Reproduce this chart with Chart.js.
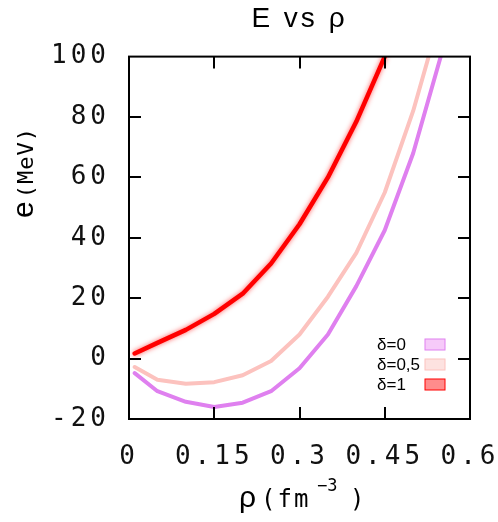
<!DOCTYPE html>
<html>
<head>
<meta charset="utf-8">
<script src="https://cdn.jsdelivr.net/npm/chart.js@4.4.1/dist/chart.umd.min.js"></script>
<style>
  html, body { margin: 0; padding: 0; background: #fff; }
  canvas { display: block; }
</style>
</head>
<body>
<canvas id="eosChart" width="498" height="522"></canvas>
<script>
// density (fm^-3) and energy per nucleon (MeV)
const rho = [0.01, 0.05, 0.1, 0.15, 0.2, 0.25, 0.3, 0.35, 0.4, 0.45, 0.5, 0.55];
const eDelta0 = [-4.8, -10.8, -14.3, -16, -14.6, -10.8, -3.2, 8, 24, 42.5, 68, 101];
const eDelta05 = [-2.8, -7, -8.3, -7.8, -5.5, -0.8, 8, 20.5, 35, 55, 82, 115];
const eDelta1 = [1.7, 5.2, 9.5, 14.8, 21.5, 31.5, 44.5, 60, 78.5, 100, null, null];
const seriesLabels = ['δ=0', 'δ=0,5', 'δ=1'];
const xTicks = [0, 0.15, 0.3, 0.45, 0.6];
const yTicks = [-20, 0, 20, 40, 60, 80, 100];

const lineColors = ['#df80ef', '#fcc2be', '#ff0000'];
const boxFills = ['#f6caf9', '#fde2e0', '#ff8c8c'];

const MONO = "'DejaVu Sans Mono', monospace";
const SANS = "'Liberation Sans', Arial, sans-serif";

function points(values) {
    return rho.map((r, i) => ({ x: r, y: values[i] }));
}

// gnuplot-like frame: box, inward ticks, axis titles, legend
const framePlugin = {
    id: 'frame',
    beforeDraw(chart) {
        chart.ctx.letterSpacing = '3px'; // title
    },
    beforeDatasetDraw(chart, args) {
        if (args.index === 2) {
            const ctx = chart.ctx;
            ctx.save();
            ctx.shadowColor = 'rgba(255, 40, 40, 0.75)';
            ctx.shadowBlur = 5;
        }
    },
    afterDatasetDraw(chart, args) {
        if (args.index === 2) {
            chart.ctx.restore();
        }
    },
    afterDatasetsDraw(chart) {
        chart.ctx.letterSpacing = '4px'; // tick labels drawn next (z = 1)
    },
    afterDraw(chart) {
        const ctx = chart.ctx;
        const area = chart.chartArea;
        const xs = chart.scales.x;
        const ys = chart.scales.y;
        const tick = 12;

        ctx.save();
        ctx.letterSpacing = '0px';
        ctx.strokeStyle = '#000';
        ctx.lineWidth = 2;
        ctx.strokeRect(area.left, area.top, area.right - area.left, area.bottom - area.top);

        ctx.beginPath();
        yTicks.slice(1, -1).forEach(v => {
            const y = Math.round(ys.getPixelForValue(v));
            ctx.moveTo(area.left, y);
            ctx.lineTo(area.left + tick, y);
            ctx.moveTo(area.right, y);
            ctx.lineTo(area.right - tick, y);
        });
        xTicks.slice(1, -1).forEach(v => {
            const x = Math.round(xs.getPixelForValue(v));
            ctx.moveTo(x, area.top);
            ctx.lineTo(x, area.top + tick);
            ctx.moveTo(x, area.bottom);
            ctx.lineTo(x, area.bottom - tick);
        });
        ctx.stroke();

        // legend, text on the left, swatch on the right
        ctx.font = '17px ' + SANS;
        ctx.textBaseline = 'middle';
        ctx.textAlign = 'left';
        seriesLabels.forEach((label, i) => {
            const y = area.bottom - 74 + i * 20;
            ctx.fillStyle = '#000';
            ctx.fillText(label, area.right - 93, y);
            ctx.fillStyle = boxFills[i];
            ctx.fillRect(area.right - 45, y - 6, 20, 11);
            ctx.strokeStyle = lineColors[i];
            ctx.lineWidth = 1;
            ctx.strokeRect(area.right - 45, y - 6, 20, 11);
        });

        // y title
        ctx.fillStyle = '#000';
        ctx.textBaseline = 'alphabetic';
        ctx.save();
        ctx.translate(33, 218);
        ctx.rotate(-Math.PI / 2);
        ctx.font = '30px ' + SANS;
        ctx.fillText('e', 0, 0);
        const ew = ctx.measureText('e').width;
        ctx.font = '22px ' + MONO;
        ctx.letterSpacing = '1px';
        ctx.fillText('(MeV)', ew + 3, 0);
        ctx.restore();

        // x title
        ctx.font = '30px ' + SANS;
        ctx.fillText('ρ', 239, 507);
        ctx.font = '24px ' + MONO;
        ctx.letterSpacing = '2px';
        ctx.fillText('(fm', 261, 507);
        ctx.font = '17px ' + MONO;
        ctx.letterSpacing = '0px';
        ctx.fillText('−3', 317, 491);
        ctx.font = '24px ' + MONO;
        ctx.fillText(')', 350, 507);

        ctx.restore();
        ctx.letterSpacing = '0px';
    }
};

new Chart(document.getElementById('eosChart'), {
    type: 'line',
    data: {
        datasets: [
            { label: seriesLabels[0], data: points(eDelta0), borderColor: lineColors[0], borderWidth: 4 },
            { label: seriesLabels[1], data: points(eDelta05), borderColor: lineColors[1], borderWidth: 4 },
            { label: seriesLabels[2], data: points(eDelta1), borderColor: lineColors[2], borderWidth: 4.5 }
        ]
    },
    options: {
        responsive: false,
        animation: false,
        devicePixelRatio: 1,
        spanGaps: false,
        elements: {
            point: { radius: 0, hoverRadius: 0 },
            line: { tension: 0, fill: false, borderJoinStyle: 'round', borderCapStyle: 'round' }
        },
        layout: { padding: { top: 0, right: 28, bottom: 0, left: 0 } },
        plugins: {
            legend: { display: false },
            tooltip: { enabled: false },
            title: {
                display: true,
                text: 'E vs ρ',
                fullSize: false,
                color: '#000',
                font: { family: SANS, size: 28, weight: 'normal' },
                padding: { top: 2, bottom: 21 }
            }
        },
        scales: {
            x: {
                type: 'linear',
                min: 0,
                max: 0.6,
                afterBuildTicks: scale => { scale.ticks = xTicks.map(v => ({ value: v })); },
                afterFit: scale => {
                    scale.height = 103;
                    scale.paddingLeft = 0;
                    scale.paddingRight = 0;
                },
                grid: { display: false, drawTicks: false },
                border: { display: false },
                ticks: {
                    z: 1,
                    padding: 23,
                    color: '#111',
                    maxRotation: 0,
                    autoSkip: false,
                    font: { family: MONO, size: 26 },
                    callback: v => String(v)
                }
            },
            y: {
                type: 'linear',
                min: -20,
                max: 100,
                afterBuildTicks: scale => { scale.ticks = yTicks.map(v => ({ value: v })); },
                afterFit: scale => {
                    scale.width = 129;
                    scale.paddingTop = 0;
                    scale.paddingBottom = 0;
                },
                grid: { display: false, drawTicks: false },
                border: { display: false },
                ticks: {
                    z: 1,
                    padding: 19,
                    color: '#111',
                    font: { family: MONO, size: 26 },
                    callback: v => String(v)
                }
            }
        }
    },
    plugins: [framePlugin]
});
</script>
</body>
</html>
